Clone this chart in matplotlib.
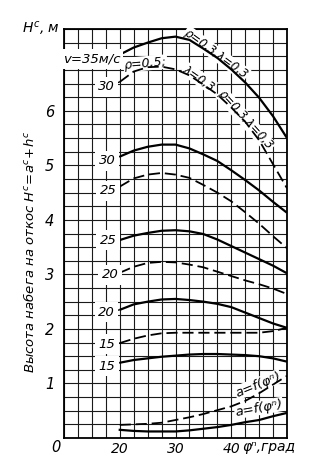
import matplotlib
matplotlib.use("Agg")
import matplotlib.pyplot as plt
from matplotlib.ticker import MultipleLocator

plt.rcParams['font.family'] = ['DejaVu Sans']
plt.rcParams['mathtext.fontset'] = 'dejavusans'
plt.rcParams['lines.scale_dashes'] = False

# ---- data ----
phi = [20, 22.5, 25, 27.5, 30, 32.5, 35, 37.5, 40, 42.5, 45, 47.5, 50]

# solid curves: rho=0.3, lambda=0.3
solid_35 = [7.03, 7.16, 7.25, 7.33, 7.36, 7.30, 7.14, 6.97, 6.76, 6.52, 6.24, 5.90, 5.50]
solid_30 = [5.16, 5.27, 5.34, 5.38, 5.38, 5.31, 5.20, 5.08, 4.91, 4.73, 4.54, 4.33, 4.13]
solid_25 = [3.63, 3.71, 3.76, 3.80, 3.81, 3.79, 3.74, 3.64, 3.52, 3.40, 3.28, 3.16, 3.02]
solid_20 = [2.35, 2.45, 2.50, 2.54, 2.55, 2.53, 2.50, 2.46, 2.40, 2.30, 2.20, 2.10, 2.02]
solid_15 = [1.38, 1.43, 1.46, 1.49, 1.51, 1.53, 1.54, 1.54, 1.53, 1.52, 1.50, 1.46, 1.40]

# dashed curves: rho=0.5, lambda=0.3
dashed_30 = [6.53, 6.72, 6.80, 6.81, 6.76, 6.65, 6.48, 6.30, 6.06, 5.80, 5.46, 5.02, 4.58]
dashed_25 = [4.61, 4.76, 4.83, 4.86, 4.83, 4.77, 4.64, 4.50, 4.34, 4.14, 3.93, 3.70, 3.48]
dashed_20 = [3.03, 3.14, 3.21, 3.23, 3.22, 3.18, 3.13, 3.05, 2.97, 2.89, 2.82, 2.74, 2.64]
dashed_15 = [1.74, 1.82, 1.88, 1.92, 1.93, 1.93, 1.93, 1.93, 1.93, 1.93, 1.93, 1.96, 2.02]

# a = f(phi)
a_solid = [0.15, 0.13, 0.12, 0.12, 0.12, 0.14, 0.17, 0.20, 0.24, 0.29, 0.33, 0.40, 0.46]
a_dashed = [0.24, 0.25, 0.26, 0.28, 0.33, 0.38, 0.44, 0.51, 0.58, 0.68, 0.82, 0.98, 1.14]

solid_labels = ['v=35м/с', '30', '25', '20', '15']
dashed_labels = ['30', '25', '20', '15']
x_tick_vals = [20, 30, 40]
y_tick_vals = [1, 2, 3, 4, 5, 6]

fig = plt.figure(figsize=(3.13, 4.71), dpi=100)
ax = fig.add_axes([64 / 313, 33 / 471, 223 / 313, 409 / 471])
ax.set_xlim(10, 50)
ax.set_ylim(0, 7.5)

ax.xaxis.set_minor_locator(MultipleLocator(2.5))
ax.yaxis.set_minor_locator(MultipleLocator(0.25))
ax.grid(which='both', color='#1a1a1a', lw=0.8, zorder=0)
ax.set_axisbelow(True)
for s in ax.spines.values():
    s.set_linewidth(1.3)
ax.tick_params(which='both', length=0)
ax.set_xticks(x_tick_vals)
ax.set_xticklabels([str(v) for v in x_tick_vals], fontsize=10, fontstyle='italic')
ax.set_yticks(y_tick_vals)
ax.set_yticklabels([str(v) for v in y_tick_vals], fontsize=10.5, fontstyle='italic')
ax.tick_params(axis='x', pad=3)
ax.tick_params(axis='y', pad=7)

DASH = (8, 3.5)
solids = [solid_35, solid_30, solid_25, solid_20, solid_15]
dasheds = [dashed_30, dashed_25, dashed_20, dashed_15]
for ys in solids:
    ax.plot(phi, ys, color='black', lw=1.6, zorder=5, solid_capstyle='butt')
for ys in dasheds:
    ax.plot(phi, ys, color='black', lw=1.3, dashes=DASH, zorder=5)
ax.plot(phi, a_solid, color='black', lw=1.6, zorder=5)
ax.plot(phi, a_dashed, color='black', lw=1.3, dashes=DASH, zorder=5)

# curve labels on the left with leader lines
bb = dict(facecolor='white', edgecolor='none', pad=2.5)
solid_pos = [(14.9, 6.95), (17.7, 5.08), (17.9, 3.63), (17.6, 2.31), (17.7, 1.32)]
dashed_pos = [(17.6, 6.44), (17.9, 4.53), (18.3, 2.99), (17.7, 1.72)]
for lab, ys, pos in zip(solid_labels, solids, solid_pos):
    ax.annotate(lab, xy=(phi[0], ys[0]), xytext=pos, ha='center', va='center',
                fontsize=9.5, fontstyle='italic', bbox=bb, zorder=6,
                arrowprops=dict(arrowstyle='-', lw=1.0, color='black',
                                shrinkA=0, shrinkB=0))
for lab, ys, pos in zip(dashed_labels, dasheds, dashed_pos):
    ax.annotate(lab, xy=(phi[0], ys[0]), xytext=pos, ha='center', va='center',
                fontsize=9.5, fontstyle='italic', bbox=bb, zorder=6,
                arrowprops=dict(arrowstyle='-', lw=1.0, color='black', ls=(0, (3, 1.5)),
                                shrinkA=0, shrinkB=0))

# rotated annotations along curves
bb0 = dict(facecolor='white', edgecolor='none', pad=0.5)
ax.text(37.3, 7.05, 'ρ=0,3,λ=0,3', rotation=-36, ha='center', va='center',
        fontsize=8.5, fontstyle='italic', bbox=bb0, zorder=4, rotation_mode='anchor')
ax.text(24.6, 6.87, 'ρ=0,5;', rotation=5, ha='center', va='center',
        fontsize=9, fontstyle='italic', bbox=bb0, zorder=4, rotation_mode='anchor')
ax.text(34.2, 6.60, 'λ=0,3', rotation=-35, ha='center', va='center',
        fontsize=8.5, fontstyle='italic', bbox=bb0, zorder=4, rotation_mode='anchor')
ax.text(42.6, 5.83, 'ρ=0,3,λ=0,3', rotation=-48, ha='center', va='center',
        fontsize=8.5, fontstyle='italic', bbox=bb0, zorder=4, rotation_mode='anchor')
ax.text(44.8, 0.98, 'a=f(φⁿ)', rotation=22, ha='center', va='center',
        fontsize=9.5, fontstyle='italic', bbox=bb0, zorder=4, rotation_mode='anchor')
ax.text(44.95, 0.55, 'a=f(φⁿ)', rotation=10, ha='center', va='center',
        fontsize=9.5, fontstyle='italic', bbox=bb0, zorder=4, rotation_mode='anchor')

# axis texts
fig.text(56 / 313, 1 - 447 / 471, '0', ha='center', va='center', fontsize=10.5, fontstyle='italic')
fig.text(242 / 313, 1 - 447 / 471, 'φⁿ,град', ha='left', va='center', fontsize=10, fontstyle='italic')
fig.text(22 / 313, 1 - 28 / 471, r'$H^c$, м', ha='left', va='center', fontsize=10, fontstyle='italic')
fig.text(30 / 313, 1 - 252 / 471, r'Высота набега на откос $H^c\!=\!a^c\!+\!h^c$',
         rotation=90, ha='center', va='center', fontsize=9.5, fontstyle='italic')

fig.savefig('out.png', dpi=100, facecolor='white')
